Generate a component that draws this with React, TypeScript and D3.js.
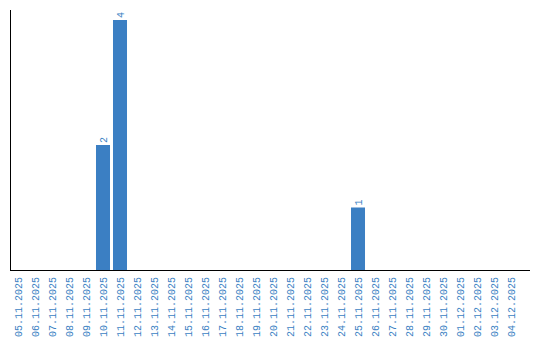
import React from "react";
import * as d3 from "d3";

const categories = [
  "05.11.2025","06.11.2025","07.11.2025","08.11.2025","09.11.2025","10.11.2025",
  "11.11.2025","12.11.2025","13.11.2025","14.11.2025","15.11.2025","16.11.2025",
  "17.11.2025","18.11.2025","19.11.2025","20.11.2025","21.11.2025","22.11.2025",
  "23.11.2025","24.11.2025","25.11.2025","26.11.2025","27.11.2025","28.11.2025",
  "29.11.2025","30.11.2025","01.12.2025","02.12.2025","03.12.2025","04.12.2025",
];
const values = [0,0,0,0,0,2,4,0,0,0,0,0,0,0,0,0,0,0,0,0,1,0,0,0,0,0,0,0,0,0];

const W = 540, H = 340;
const color = "#3b7fc3";
const font = "'Liberation Mono', 'DejaVu Sans Mono', monospace";

export default function App() {
  const x = d3.scaleBand<string>().domain(categories).range([9.5, 519.5]).paddingInner(0.176).paddingOuter(0.088);
  const y = d3.scaleLinear().domain([0, 4]).range([270, 20]);
  return (
    <svg width={W} height={H} style={{ position: "absolute", left: 0, top: 0 }}>
      <rect width={W} height={H} fill="#fff" />
      {categories.map((c, i) =>
        values[i] > 0 ? (
          <g key={c}>
            <rect x={x(c)!} y={y(values[i])} width={x.bandwidth()} height={y(0) - y(values[i])} fill={color} />
            <text
              transform={`translate(${x(c)! + x.bandwidth() / 2},${y(values[i]) - 2}) rotate(-90)`}
              dy="0.35em"
              fontFamily={font}
              fontSize={10}
              fill={color}
            >
              {values[i]}
            </text>
          </g>
        ) : null
      )}
      <line x1={10.5} x2={10.5} y1={10} y2={270} stroke="#000" />
      <line x1={10} x2={530} y1={270.5} y2={270.5} stroke="#000" />
      {categories.map((c) => (
        <text
          key={"t" + c}
          transform={`translate(${x(c)! + x.bandwidth() / 2},277) rotate(-90)`}
          dy="0.35em"
          textAnchor="end"
          fontFamily={font}
          fontSize={10}
          fill={color}
        >
          {c}
        </text>
      ))}
    </svg>
  );
}
